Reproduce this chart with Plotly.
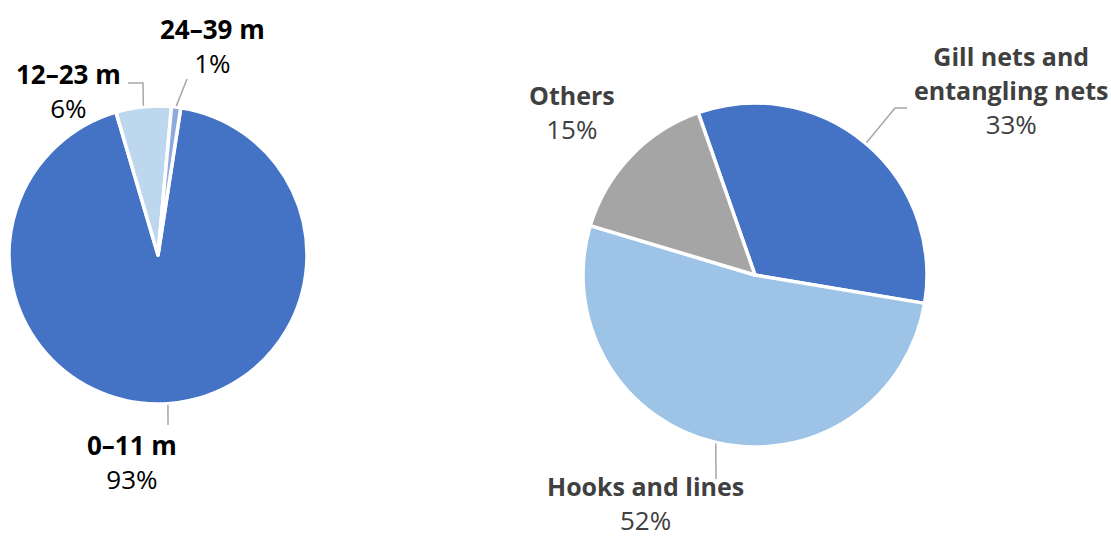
import math
import plotly.graph_objects as go

W, H = 1111, 538

# ---- data ----
length_labels = ["0–11 m", "12–23 m", "24–39 m"]
length_values = [93, 6, 1]
length_colors = ["#4472C4", "#BDD7EE", "#8FAADC"]

gear_labels = ["Gill nets and<br>entangling nets", "Hooks and lines", "Others"]
gear_values = [33, 52, 15]
gear_colors = ["#4472C4", "#9DC3E6", "#A5A5A5"]

# ---- layout geometry (pixels) ----
L_CX, L_CY, L_R, L_ROT = 158, 255, 149, 8.8
R_CX, R_CY, R_R, R_ROT = 755, 275, 172, -19.3


def px(x):
    return x / W


def py(y):
    return 1 - y / H


def domain(cx, cy, r):
    return dict(x=[px(cx - r), px(cx + r)], y=[py(cy + r), py(cy - r)])


def edge_point(values, idx, cx, cy, r, rot):
    total = sum(values)
    start = rot + 360 * sum(values[:idx]) / total
    mid = start + 180 * values[idx] / total
    a = math.radians(mid)
    return cx + r * math.sin(a), cy - r * math.cos(a)


fig = go.Figure()
fig.add_trace(go.Pie(
    labels=length_labels, values=length_values, sort=False,
    direction="clockwise", rotation=L_ROT, textinfo="none",
    hoverinfo="label+percent",
    marker=dict(colors=length_colors, line=dict(color="white", width=3.5)),
    domain=domain(L_CX, L_CY, L_R), showlegend=False,
))
fig.add_trace(go.Pie(
    labels=[l.replace("<br>", " ") for l in gear_labels], values=gear_values,
    sort=False, direction="clockwise", rotation=R_ROT, textinfo="none",
    hoverinfo="label+percent",
    marker=dict(colors=gear_colors, line=dict(color="white", width=3.5)),
    domain=domain(R_CX, R_CY, R_R), showlegend=False,
))

FONT = "Open Sans"
annotations = []


def add_label(name, pct, x, y, color, name_size=26, yanchor="middle"):
    t = f"<b><span style='font-size:{name_size}px'>{name}</span></b><br>{pct}%"
    annotations.append(dict(
        text=t, x=px(x), y=py(y), xref="paper", yref="paper",
        xanchor="center", yanchor=yanchor, align="center", showarrow=False,
        font=dict(family=FONT, size=26, color=color),
    ))


BLACK = "#000000"
GREY = "#404040"

# left pie labels
add_label(length_labels[0], length_values[0], 132, 462, BLACK)
add_label(length_labels[1], length_values[1], 68, 91, BLACK)
add_label(length_labels[2], length_values[2], 212, 46, BLACK)

# right pie labels
add_label(gear_labels[0], gear_values[0], 1011, 91, GREY, 25)
add_label(gear_labels[1], gear_values[1], 645, 540, GREY, 25, yanchor="bottom")
add_label(gear_labels[2], gear_values[2], 572, 112, GREY, 25)

# leader lines
shapes = []


def leader(start, pts):
    all_pts = [start] + pts
    path = "M " + " L ".join(f"{px(x)},{py(y)}" for x, y in all_pts)
    shapes.append(dict(type="path", path=path, xref="paper", yref="paper",
                       line=dict(color="#A6A6A6", width=1.5)))


leader(edge_point(length_values, 0, L_CX, L_CY, L_R + 1, L_ROT), [(168, 425)])
leader(edge_point(length_values, 1, L_CX, L_CY, L_R + 1, L_ROT), [(143, 83), (128, 83)])
leader(edge_point(length_values, 2, L_CX, L_CY, L_R + 1, L_ROT), [(187, 79)])
leader(edge_point(gear_values, 0, R_CX, R_CY, R_R + 1, R_ROT), [(895, 108), (907, 108)])
leader(edge_point(gear_values, 1, R_CX, R_CY, R_R + 1, R_ROT), [(716, 479)])

fig.update_layout(
    width=W, height=H,
    margin=dict(l=0, r=0, t=0, b=0),
    paper_bgcolor="white", plot_bgcolor="white",
    annotations=annotations, shapes=shapes,
    font=dict(family=FONT),
)

fig.write_html(
    "out.html",
    config={"displayModeBar": False},
    post_script="document.body.style.margin='0';document.body.style.overflow='hidden';",
)
